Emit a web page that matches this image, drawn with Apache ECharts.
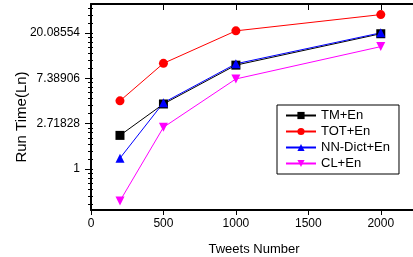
<!DOCTYPE html>
<html>
<head>
<meta charset="utf-8">
<script src="https://cdn.jsdelivr.net/npm/echarts@6/dist/echarts.min.js"></script>
<style>
  html, body { margin: 0; padding: 0; background: #fff; }
  #chart { width: 413px; height: 257px; }
</style>
</head>
<body>
<div id="chart"></div>
<script>
  // data (run time, plotted on a ln axis)
  var tweets = [200, 500, 1000, 2000];
  var tmEn = [2.10, 4.20, 9.9, 19.8];
  var totEn = [4.5, 10.3, 21.1, 30.2];
  var nnDictEn = [1.27, 4.32, 10.2, 20.2];
  var clEn = [0.494, 2.51, 7.3, 14.9];

  var xTicks = [0, 500, 1000, 1500, 2000];
  var yTickExp = [0, 1, 2, 3];
  var yTickLabels = ['1', '2.71828', '7.38906', '20.08554'];

  // axis range (ln units / tweets)
  var yMin = -0.905, yMax = 3.642;
  var xMin = 0, xMax = 2250;

  // origin-style minor ticks: 6 linear steps between e^n and e^(n+1)
  var yMinor = [];
  for (var n = -1; n <= 3; n++) {
    var a = Math.exp(n), b = Math.exp(n + 1);
    for (var k = 1; k <= 6; k++) {
      var v = Math.log(a + k * (b - a) / 7);
      if (v > yMin && v < yMax) yMinor.push(v);
    }
  }

  function toLn(arr) {
    return arr.map(function (v, i) { return [tweets[i], Math.log(v)]; });
  }

  var font = 'Liberation Sans, Arial, sans-serif';

  function makeSeries(name, data, color, symbol, rotate) {
    return {
      name: name,
      type: 'line',
      data: toLn(data),
      color: color,
      symbol: symbol,
      symbolSize: 9,
      symbolRotate: rotate || 0,
      lineStyle: { color: color, width: 1 },
      itemStyle: { color: color },
      xAxisIndex: 0,
      yAxisIndex: 0
    };
  }

  var chart = echarts.init(document.getElementById('chart'));
  chart.setOption({
    animation: false,
    backgroundColor: '#fff',
    grid: { left: 91, top: 4, width: 326, bottom: 47, outerBoundsMode: 'none', containLabel: false },
    legend: {
      orient: 'vertical',
      left: 277,
      top: 105,
      padding: [4, 9, 4, 8],
      itemGap: 3,
      itemWidth: 30,
      itemHeight: 9,
      borderColor: '#000',
      borderWidth: 1,
      borderRadius: 0,
      backgroundColor: '#fff',
      textStyle: { fontFamily: font, fontSize: 13, color: '#000' },
      data: ['TM+En', 'TOT+En', 'NN-Dict+En', 'CL+En']
    },
    xAxis: [{
      type: 'value',
      position: 'bottom',
      min: xMin,
      max: xMax,
      name: 'Tweets Number',
      nameLocation: 'middle',
      nameGap: 33,
      nameMoveOverlap: false,
      nameTextStyle: { fontFamily: font, fontSize: 13, color: '#000' },
      axisLine: { onZero: false, lineStyle: { color: '#000', width: 2 } },
      axisTick: { show: true, inside: false, length: 5, customValues: xTicks, lineStyle: { color: '#000', width: 1 } },
      axisLabel: {
        customValues: xTicks,
        margin: 8,
        fontFamily: font,
        fontSize: 12,
        color: '#000',
        formatter: function (v) { return String(v); }
      },
      splitLine: { show: false }
    }, {
      type: 'value',
      position: 'top',
      min: xMin,
      max: xMax,
      axisLine: { onZero: false, lineStyle: { color: '#000', width: 2 } },
      axisTick: { show: true, inside: true, length: 6, customValues: xTicks.slice(1), lineStyle: { color: '#000', width: 1 } },
      axisLabel: { show: false },
      splitLine: { show: false }
    }],
    yAxis: [{
      type: 'value',
      position: 'left',
      min: yMin,
      max: yMax,
      name: 'Run Time(Ln)',
      nameLocation: 'middle',
      nameGap: 62,
      nameRotate: 90,
      nameMoveOverlap: false,
      nameTextStyle: { fontFamily: font, fontSize: 15, color: '#000', padding: [0, 20, 0, 0] },
      axisLine: { onZero: false, lineStyle: { color: '#000', width: 2 } },
      axisTick: { show: true, inside: false, length: 6, customValues: yTickExp, lineStyle: { color: '#000', width: 1 } },
      axisLabel: {
        customValues: yTickExp,
        margin: 11,
        fontFamily: font,
        fontSize: 12,
        color: '#000',
        formatter: function (v) { return yTickLabels[yTickExp.indexOf(Math.round(v))]; }
      },
      splitLine: { show: false }
    }, {
      type: 'value',
      position: 'left',
      min: yMin,
      max: yMax,
      axisLine: { show: false, onZero: false },
      axisTick: { show: true, inside: false, length: 3, customValues: yMinor, lineStyle: { color: '#000', width: 1 } },
      axisLabel: { show: false },
      splitLine: { show: false }
    }, {
      type: 'value',
      position: 'left',
      min: yMin,
      max: yMax,
      axisLine: { show: false, onZero: false },
      axisTick: { show: true, inside: true, length: 2, customValues: yMinor.concat(yTickExp), lineStyle: { color: '#000', width: 1 } },
      axisLabel: { show: false },
      splitLine: { show: false }
    }],
    series: [
      makeSeries('TM+En', tmEn, '#000000', 'rect'),
      makeSeries('TOT+En', totEn, '#ff0000', 'circle'),
      makeSeries('NN-Dict+En', nnDictEn, '#0000ff', 'triangle'),
      makeSeries('CL+En', clEn, '#ff00ff', 'triangle', 180)
    ]
  });
</script>
</body>
</html>
